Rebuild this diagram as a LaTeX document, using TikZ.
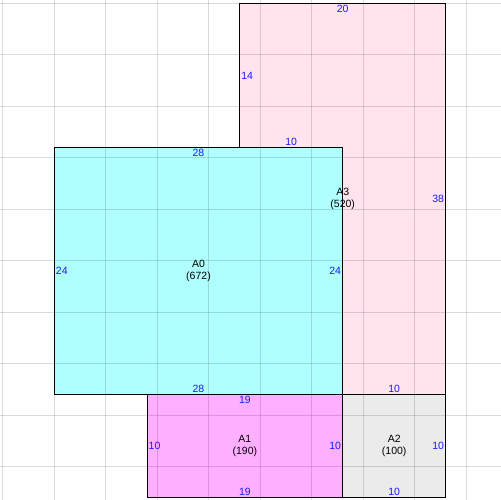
\documentclass[tikz,border=0pt]{standalone}
\usepackage{fontspec}
\setmainfont{Liberation Sans}
\definecolor{aqua}{RGB}{175,255,255}
\definecolor{blush}{RGB}{255,228,238}
\definecolor{orchid}{RGB}{255,175,255}
\definecolor{smoke}{RGB}{235,235,235}
\definecolor{lenblue}{RGB}{25,25,255}
\begin{document}
\begin{tikzpicture}[x=10.3pt, y=-10.3pt,
    gridline/.style={draw=black, opacity=0.14, line width=1pt},
    room/.style={draw=black, line width=0.9pt},
    len/.style={text=lenblue, font=\fontsize{10.5}{12}\selectfont, inner sep=1.5pt},
    roomname/.style={align=center, font=\fontsize{10.5}{12}\selectfont, inner sep=0pt}]
  \useasboundingbox (-5.27,-0.32) rectangle (43.27,48.22);
  % fills
  \fill[blush] (18,0) -- (38,0) -- (38,38) -- (28,38) -- (28,14) -- (18,14) -- cycle;
  \fill[aqua] (0,14) rectangle (28,38);
  \fill[orchid] (9,38) rectangle (28,48);
  \fill[smoke] (28,38) rectangle (38,48);
  % grid
  \foreach \x in {-5,0,...,40}{
    \draw[gridline] (\x,-1) -- (\x,49);
  }
  \foreach \y in {0,5,...,45}{
    \draw[gridline] (-6,\y) -- (44,\y);
  }
  % borders
  \draw[room] (18,0) -- (38,0) -- (38,38) -- (28,38) -- (28,14) -- (18,14) -- cycle;
  \draw[room] (0,14) rectangle (28,38);
  \draw[room] (9,38) rectangle (28,48);
  \draw[room] (28,38) rectangle (38,48);
  % A3
  \node[len, anchor=north] (a3top) at (28,0) {20};
  \node[len, anchor=west] (a3left) at (18,7) {14};
  \node[len, anchor=south] (a3step) at (23,14) {10};
  \node[len, anchor=east] (a3right) at (38,19) {38};
  \node[len, anchor=south] (a3bot) at (33,38) {10};
  \node[roomname] (a3) at (28,19) {A3\\(520)};
  % A0
  \node[len, anchor=north] (a0top) at (14,14) {28};
  \node[len, anchor=south] (a0bot) at (14,38) {28};
  \node[len, anchor=west] (a0left) at (0,26) {24};
  \node[len, anchor=east] (a0right) at (28,26) {24};
  \node[roomname] (a0) at (14,26) {A0\\(672)};
  % A1
  \node[len, anchor=north] (a1top) at (18.5,38) {19};
  \node[len, anchor=south] (a1bot) at (18.5,48) {19};
  \node[len, anchor=west] (a1left) at (9,43) {10};
  \node[len, anchor=east] (a1right) at (28,43) {10};
  \node[roomname] (a1) at (18.5,43) {A1\\(190)};
  % A2
  \node[len, anchor=east] (a2right) at (38,43) {10};
  \node[len, anchor=south] (a2bot) at (33,48) {10};
  \node[roomname] (a2) at (33,43) {A2\\(100)};
\end{tikzpicture}
\end{document}
